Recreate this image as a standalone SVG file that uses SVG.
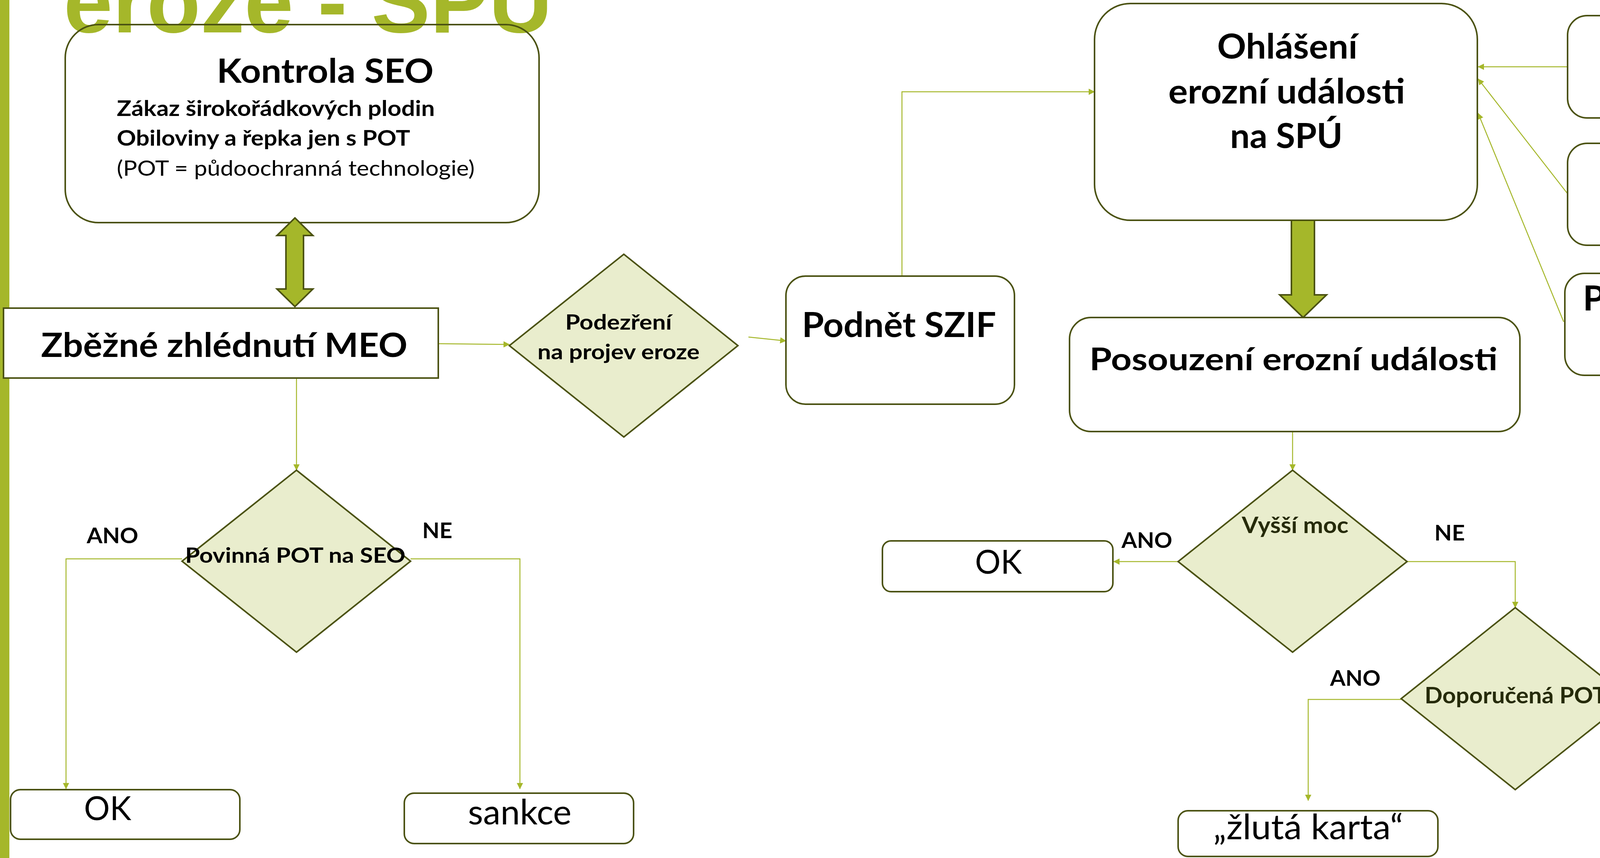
<svg xmlns="http://www.w3.org/2000/svg" width="4752" height="2197" viewBox="0 0 4752 2197">
<style>
.box{fill:#FFFFFF;stroke:#4B5212;stroke-width:4}
.open{fill:none;stroke:#4B5212;stroke-width:4}
.dia{fill:#E9EDCD;stroke:#4B5212;stroke-width:4;stroke-linejoin:miter}
.big{fill:#A5B72A;stroke:#4B5212;stroke-width:4;stroke-linejoin:miter}
.con{fill:none;stroke:#A5B72A;stroke-width:2.5}
text{font-family:Lato,"Liberation Sans",sans-serif;fill:#000000}
.b{font-weight:bold}
.r{font-weight:normal}
.dk{fill:#262B0A}
.title{font-family:"Liberation Sans",Lato,sans-serif;font-weight:bold;fill:#A5B72A}
</style>
<defs>
<marker id="ah" viewBox="0 0 16 16" refX="15" refY="8" markerWidth="16" markerHeight="16" markerUnits="userSpaceOnUse" orient="auto">
<path d="M0,0 L16,8 L0,16 z" fill="#A5B72A"/>
</marker>
</defs>
<rect x="0" y="0" width="4752" height="2197" fill="#FFFFFF"/>
<rect x="0" y="0" width="24" height="2197" fill="#A5B72A"/>
<text class="title" x="163" y="83" font-size="228" textLength="1251" lengthAdjust="spacingAndGlyphs">eroze - SPÚ</text>

<g id="connectors">
<line class="con" x1="1122" y1="880" x2="1304" y2="882" marker-end="url(#ah)"/>
<line class="con" x1="1916" y1="863" x2="2012" y2="873" marker-end="url(#ah)"/>
<polyline class="con" points="2309,707 2309,235 2802,235" marker-end="url(#ah)"/>
<line class="con" x1="4013" y1="171" x2="3784" y2="171" marker-end="url(#ah)"/>
<line class="con" x1="4013" y1="496" x2="3784" y2="202" marker-end="url(#ah)"/>
<line class="con" x1="4003" y1="824" x2="3784" y2="290" marker-end="url(#ah)"/>
<line class="con" x1="759" y1="968" x2="759" y2="1204" marker-end="url(#ah)"/>
<polyline class="con" points="466,1431 169,1431 169,2020" marker-end="url(#ah)"/>
<polyline class="con" points="1051,1431 1331,1431 1331,2020" marker-end="url(#ah)"/>
<line class="con" x1="3309" y1="1105" x2="3309" y2="1204" marker-end="url(#ah)"/>
<line class="con" x1="3016" y1="1438" x2="2851" y2="1438" marker-end="url(#ah)"/>
<polyline class="con" points="3602,1438 3879,1438 3879,1556" marker-end="url(#ah)"/>
<polyline class="con" points="3587,1791 3349,1791 3349,2050" marker-end="url(#ah)"/>
<polyline class="con" points="4172,1791 4465,1791 4465,2047" marker-end="url(#ah)"/>
</g>

<g id="kontrola">
<rect class="open" x="167" y="63" width="1213" height="507" rx="85" ry="85"/>
<text class="b" x="555" y="212" font-size="86" textLength="555" lengthAdjust="spacingAndGlyphs">Kontrola SEO</text>
<text class="b" x="299" y="297" font-size="55" textLength="814" lengthAdjust="spacingAndGlyphs">Zákaz širokořádkových plodin</text>
<text class="b" x="299" y="373" font-size="55" textLength="751" lengthAdjust="spacingAndGlyphs">Obiloviny a řepka jen s POT</text>
<text class="r" x="299" y="450" font-size="55" textLength="916" lengthAdjust="spacingAndGlyphs">(POT = půdoochranná technologie)</text>
</g>

<g id="dblarrow">
<path class="big" d="M755,558 L801,603 L777,603 L777,740 L801,740 L755,785 L709,740 L732,740 L732,603 L709,603 Z"/>
</g>

<g id="zbezne">
<rect class="box" x="9" y="789" width="1113" height="179"/>
<text class="b" x="105" y="914" font-size="87" textLength="938" lengthAdjust="spacingAndGlyphs">Zběžné zhlédnutí MEO</text>
</g>

<g id="podezreni">
<polygon class="dia" points="1304,885 1597,651 1889,885 1597,1119"/>
<text class="b" x="1447" y="844" font-size="54" textLength="273" lengthAdjust="spacingAndGlyphs">Podezření</text>
<text class="b" x="1376" y="920" font-size="54" textLength="415" lengthAdjust="spacingAndGlyphs">na projev eroze</text>
</g>

<g id="szif">
<rect class="box" x="2012" y="707" width="585" height="328" rx="50" ry="50"/>
<text class="b" x="2053" y="863" font-size="88" textLength="497" lengthAdjust="spacingAndGlyphs">Podnět SZIF</text>
</g>

<g id="ohlaseni">
<rect class="box" x="2802" y="9" width="980" height="555" rx="92" ry="92"/>
<text class="b" x="3116" y="150" font-size="88" textLength="359" lengthAdjust="spacingAndGlyphs">Ohlášení</text>
<text class="b" x="2991" y="265" font-size="88" textLength="606" lengthAdjust="spacingAndGlyphs">erozní události</text>
<text class="b" x="3149" y="379" font-size="88" textLength="288" lengthAdjust="spacingAndGlyphs">na SPÚ</text>
</g>

<g id="downarrow">
<path class="big" d="M3306,564 L3365,564 L3365,755 L3396,755 L3336,813 L3276,755 L3306,755 Z"/>
</g>

<g id="posouzeni">
<rect class="box" x="2738" y="813" width="1153" height="292" rx="55" ry="55"/>
<text class="b" x="2789" y="948" font-size="80" textLength="1045" lengthAdjust="spacingAndGlyphs">Posouzení erozní události</text>
</g>

<g id="vlastnik">
<rect class="box" x="4013" y="40" width="665" height="262" rx="50" ry="50"/>
<text class="b" x="4203" y="150" font-size="88" textLength="293" lengthAdjust="spacingAndGlyphs">Podnět</text>
<text class="b" x="4163" y="265" font-size="88" textLength="366" lengthAdjust="spacingAndGlyphs">vlastníka</text>
</g>

<g id="obec">
<rect class="box" x="4013" y="367" width="665" height="261" rx="50" ry="50"/>
<text class="b" x="4196" y="469" font-size="88" textLength="292" lengthAdjust="spacingAndGlyphs">Podnět</text>
<text class="b" x="4245" y="585" font-size="88" textLength="191" lengthAdjust="spacingAndGlyphs">obce</text>
</g>

<g id="jiny">
<rect class="box" x="4006" y="700" width="667" height="261" rx="50" ry="50"/>
<text class="b" x="4052" y="795" font-size="88" textLength="568" lengthAdjust="spacingAndGlyphs">Podnět jiného</text>
<text class="b" x="4160" y="911" font-size="88" textLength="353" lengthAdjust="spacingAndGlyphs">subjektu</text>
</g>

<g id="povinna">
<polygon class="dia" points="466,1437 759,1204 1051,1437 759,1670"/>
<text class="b" x="474" y="1441" font-size="54" textLength="564" lengthAdjust="spacingAndGlyphs">Povinná POT na SEO</text>
<text class="b" x="222" y="1391" font-size="55" textLength="132" lengthAdjust="spacingAndGlyphs">ANO</text>
<text class="b" x="1081" y="1378" font-size="55" textLength="77" lengthAdjust="spacingAndGlyphs">NE</text>
</g>

<g id="ok1">
<rect class="box" x="27" y="2022" width="587" height="127" rx="25" ry="25"/>
<text class="r" x="215" y="2100" font-size="85" textLength="121" lengthAdjust="spacingAndGlyphs">OK</text>
</g>

<g id="sankce1">
<rect class="box" x="1035" y="2031" width="587" height="129" rx="25" ry="25"/>
<text class="r" x="1198" y="2111" font-size="90" textLength="265" lengthAdjust="spacingAndGlyphs">sankce</text>
</g>

<g id="vyssi">
<polygon class="dia" points="3016,1438 3309,1204 3602,1438 3309,1670"/>
<text class="b dk" x="3179" y="1365" font-size="58" textLength="273" lengthAdjust="spacingAndGlyphs">Vyšší moc</text>
<text class="b" x="2871" y="1403" font-size="55" textLength="130" lengthAdjust="spacingAndGlyphs">ANO</text>
<text class="b" x="3672" y="1384" font-size="55" textLength="78" lengthAdjust="spacingAndGlyphs">NE</text>
</g>

<g id="ok2">
<rect class="box" x="2259" y="1385" width="590" height="130" rx="22" ry="22"/>
<text class="r" x="2496" y="1469" font-size="86" textLength="120" lengthAdjust="spacingAndGlyphs">OK</text>
</g>

<g id="doporucena">
<polygon class="dia" points="3587,1789 3879,1556 4172,1789 3879,2022"/>
<text class="b dk" x="3647" y="1801" font-size="57" textLength="466" lengthAdjust="spacingAndGlyphs">Doporučená POT</text>
<text class="b" x="3405" y="1756" font-size="55" textLength="129" lengthAdjust="spacingAndGlyphs">ANO</text>
<text class="b" x="4263" y="1751" font-size="55" textLength="76" lengthAdjust="spacingAndGlyphs">NE</text>
</g>

<g id="zluta">
<rect class="box" x="3016" y="2076" width="665" height="117" rx="25" ry="25"/>
<text class="r" x="3106" y="2149" font-size="90" textLength="486" lengthAdjust="spacingAndGlyphs">„žlutá karta“</text>
</g>

<g id="sankce2">
<rect class="box" x="4152" y="2073" width="585" height="117" rx="25" ry="25"/>
<text class="r" x="4334" y="2145" font-size="90" textLength="264" lengthAdjust="spacingAndGlyphs">sankce</text>
</g>
</svg>
